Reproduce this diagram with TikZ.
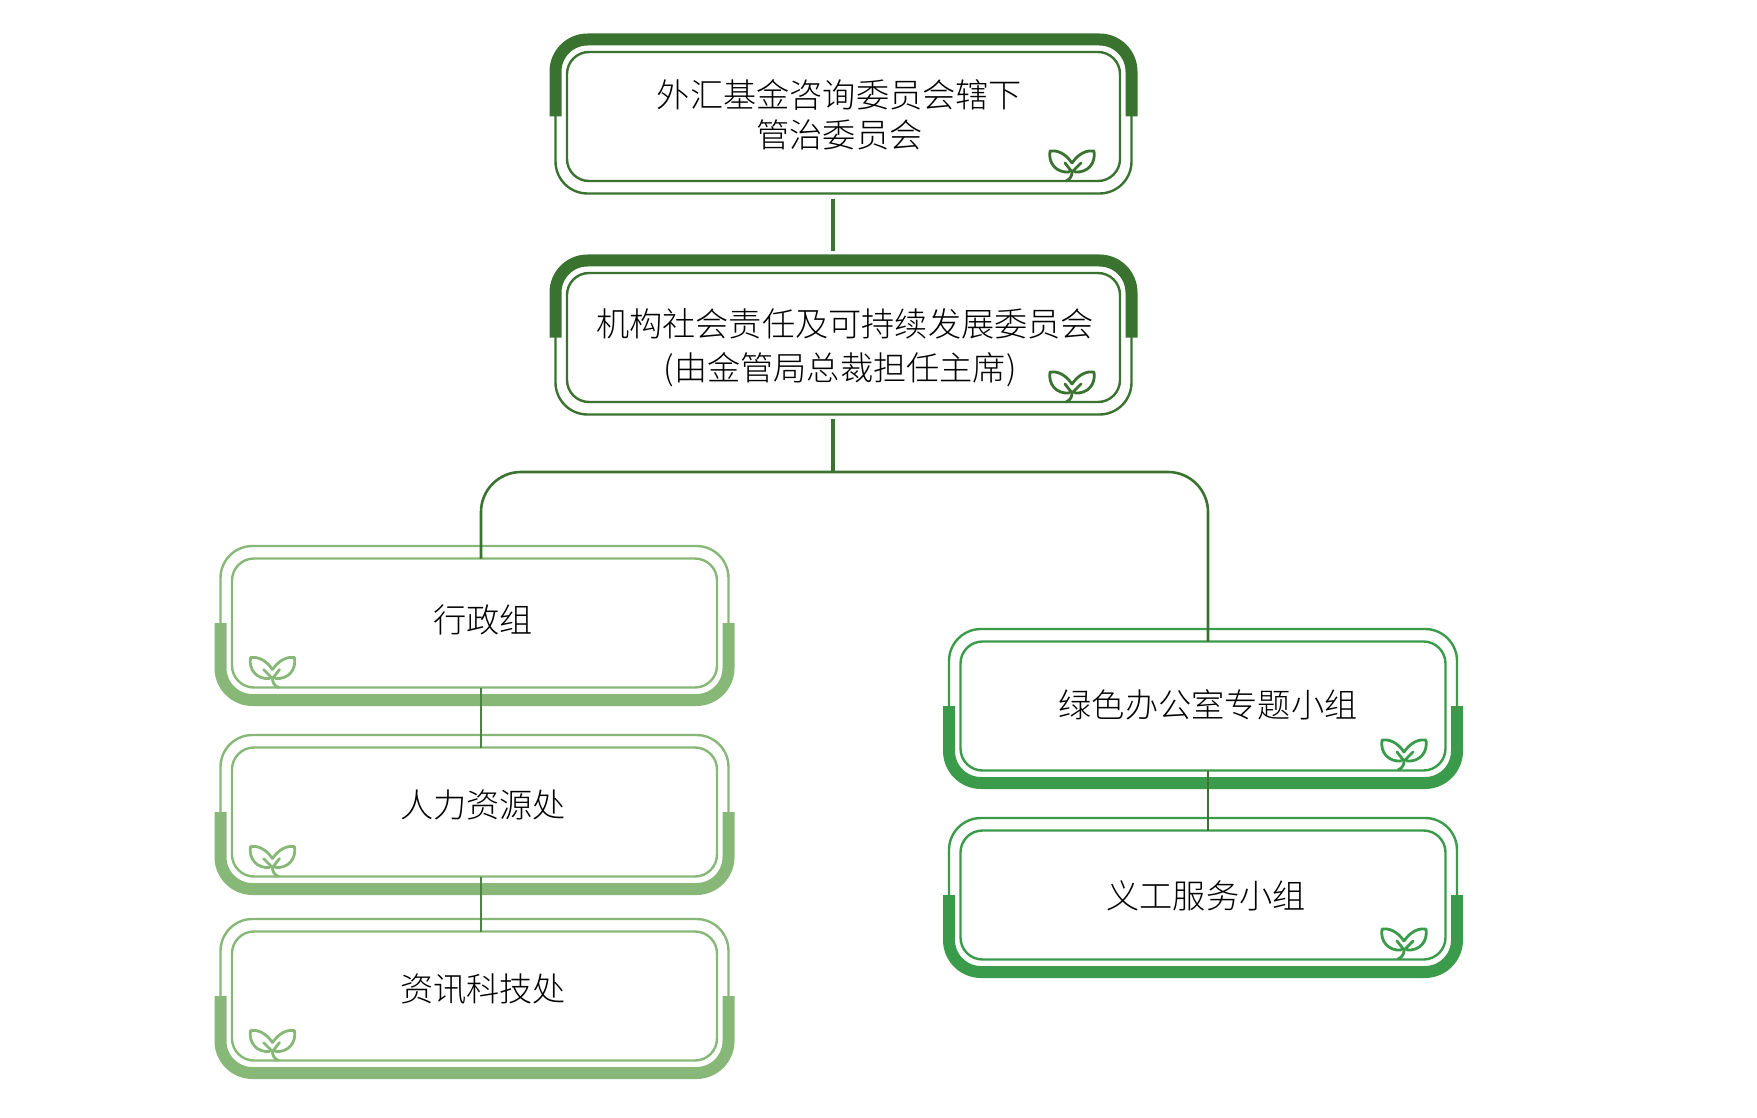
\documentclass[tikz,border=0pt]{standalone}
\usepackage{fontspec}
\setmainfont{Noto Sans CJK SC Light}
\definecolor{darkleaf}{HTML}{3A7230}
\definecolor{paleleaf}{HTML}{88B878}
\definecolor{midleaf}{HTML}{3A9B4B}
\tikzset{
	framebox/.style={draw=#1, line width=2.4pt, rounded corners=22pt, minimum height=129pt, inner sep=0pt, outer sep=0pt},
	boxtext/.style={align=center, text=black, font=\fontsize{33.2}{40}\selectfont},
	link/.style={draw=#1, line width=2.6pt},
	sprout/.pic={
		\draw[line width=2.8pt, line join=round, line cap=round, pic actions]
		(1,-18) .. controls (-6,-28) and (-14,-31) .. (-21,-30)
		.. controls (-23,-18) and (-15,-8) .. (-2,-9)
		(1,-18) .. controls (8,-28) and (16,-31) .. (23,-30)
		.. controls (25,-18) and (17,-8) .. (4,-9)
		(-5,0) .. controls (0,-2) and (1,-6) .. (1,-9) -- (10,-18)
		(1,-9) -- (-6,-18);
	}
}
% frame: name, position, width, colour, side of the band, sign
\newcommand{\orgbox}[6]{
	\node[framebox=#4, minimum width=#3] (#1) at #2 {};
	\draw[#4, line width=2.4pt, rounded corners=32pt]
	([shift={(-11.5,-12.5)}]#1.north west) rectangle ([shift={(11.5,12.5)}]#1.south east);
	\draw[#4, line width=12pt, rounded corners=32pt]
	([xshift=-11.5pt]#1.west) -- ([shift={(-11.5,#6*12.5)}]#1.#5 west)
	-- ([shift={(11.5,#6*12.5)}]#1.#5 east) -- ([xshift=11.5pt]#1.east);
}
\begin{document}
\begin{tikzpicture}[x=1pt,y=-1pt]
	\useasboundingbox (0,0) rectangle (1757,1118);

	\coordinate (trunktop) at (833,199);
	\coordinate (trunkmid) at (833,251);
	\coordinate (trunkfoot) at (833,419);
	\coordinate (fork) at (833,472);
	\coordinate (forkleft) at (481,472);
	\coordinate (forkright) at (1208,472);

	% committees
	\orgbox{fund}{(843.5,116.5)}{553pt}{darkleaf}{north}{-1}
	\orgbox{csr}{(843.5,337.5)}{553pt}{darkleaf}{north}{-1}
	\pic[darkleaf] at (1071,181) {sprout};
	\pic[darkleaf] at (1071,402) {sprout};
	\node[boxtext] (fundtext) at (839.5,114.5) {外汇基金咨询委员会辖下\\管治委员会};
	\node[boxtext, font=\fontsize{33.2}{44}\selectfont] (csrtext) at (845,348) {机构社会责任及可持续发展委员会\\(由金管局总裁担任主席)\hspace*{10pt}};

	% left group
	\foreach \boxname/\ypos/\ytext/\boxlabel in {admin/623/620/行政组, hr/812/804.5/人力资源处, it/996/989.5/资讯科技处} {
		\orgbox{\boxname}{(474.5,\ypos)}{485pt}{paleleaf}{south}{1}
		\pic[paleleaf, xscale=-1] at (273.5,\ypos+64.5) {sprout};
		\node[boxtext] (\boxname text) at (483,\ytext) {\boxlabel};
	}

	% right group
	\foreach \boxname/\ypos/\xtext/\ytext/\boxlabel in {office/706/1208/704.5/绿色办公室专题小组, volunteer/895/1206/895.5/义工服务小组} {
		\orgbox{\boxname}{(1203,\ypos)}{485pt}{midleaf}{south}{1}
		\pic[midleaf] at (1403,\ypos+64) {sprout};
		\node[boxtext] (\boxname text) at (\xtext,\ytext) {\boxlabel};
	}

	\draw[link=darkleaf, line width=3.6pt] (trunktop) -- (trunkmid);
	\draw[link=darkleaf, line width=3.6pt] (trunkfoot) -- (fork);
	\draw[link=darkleaf, rounded corners=40pt] (admin.north -| forkleft) -- (forkleft) -- (forkright) -- (office.north -| forkright);
	\draw[link=darkleaf!75!paleleaf] (admin.south -| forkleft) -- (hr.north -| forkleft);
	\draw[link=darkleaf!75!paleleaf] (hr.south -| forkleft) -- (it.north -| forkleft);
	\draw[link=darkleaf] (office.south -| forkright) -- (volunteer.north -| forkright);
\end{tikzpicture}
\end{document}
